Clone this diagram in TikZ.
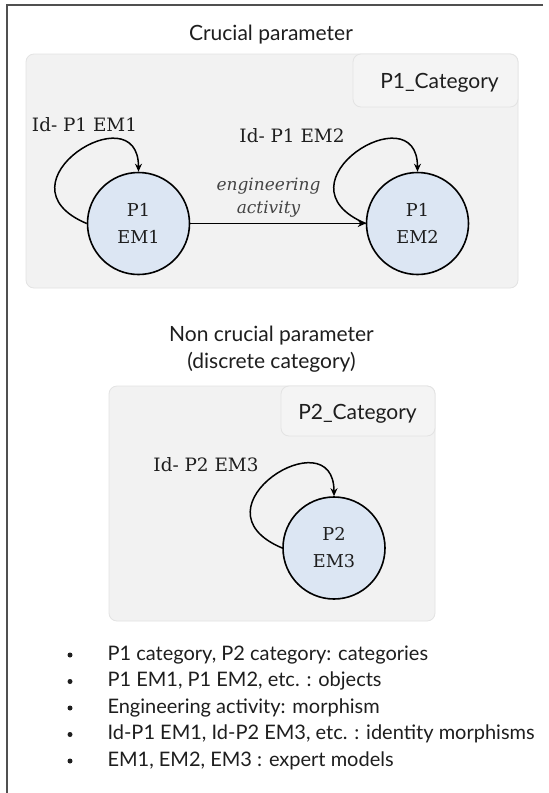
\documentclass[tikz,border=0pt]{standalone}
\usepackage{fontspec}
\setmainfont{Lato}
\newfontfamily\srf{DejaVu Serif}
\usetikzlibrary{arrows.meta}
\definecolor{boxfill}{HTML}{F2F2F2}
\definecolor{tagfill}{HTML}{F4F4F4}
\definecolor{boxline}{HTML}{E3E3E3}
\definecolor{nodefill}{HTML}{DCE6F3}
\definecolor{txt}{HTML}{1E1E1E}
\definecolor{txtb}{HTML}{444444}
\definecolor{frame}{HTML}{505050}
\begin{document}
\begin{tikzpicture}[x=1pt,y=-1pt,
 obj/.style={circle,draw=black,line width=1.6pt,fill=nodefill,minimum size=102pt,inner sep=0pt,align=center,font=\srf\fontsize{17.7}{27}\selectfont,text=txt},
 idlab/.style={anchor=base,font=\srf\fontsize{18.4}{22}\selectfont,text=txt},
 engl/.style={anchor=base,font=\srf\itshape\fontsize{17}{20}\selectfont,text=txtb},
 heading/.style={anchor=base,font=\fontsize{21}{25}\selectfont,text=txt},
 catbox/.style={rounded corners=8pt,fill=boxfill,draw=boxline,line width=0.8pt},
 cattag/.style={rounded corners=8pt,fill=tagfill,draw=boxline,line width=0.8pt},
 tagtext/.style={anchor=base,font=\fontsize{21}{25}\selectfont,text=txt},
 idloop/.style={line width=1.5pt,-{Stealth[length=8pt,width=7pt]}},
 item/.style={anchor=base west,font=\fontsize{20}{24}\selectfont,text=txt},
 dot/.style={circle,fill=txt,inner sep=0pt,minimum size=5pt}]
\useasboundingbox (0,0) rectangle (549,793);
\fill[white] (0,0) rectangle (549,793);
\draw[line width=2pt,frame] (543,5) -- (7,5) -- (7,793);

% headings
\node[heading] (h1) at (271,40) {Crucial parameter};
\node[heading] (h2a) at (271.5,341.5) {Non crucial parameter};
\node[heading] (h2b) at (271.5,368) {(discrete category)};

% category boxes
\draw[catbox] (26,54) rectangle (518,288);
\draw[cattag] (353,54) rectangle (518,107);
\node[tagtext] (t1) at (439.5,88) {P1\_Category};

\draw[catbox] (109,386) rectangle (435,621);
\draw[cattag] (281,386) rectangle (435,436);
\node[tagtext] (t2) at (357.5,419.5) {P2\_Category};

% objects
\node[obj] (e1) at (138.5,223.5) {P1\\EM1};
\node[obj] (e2) at (417.5,223.5) {P1\\EM2};
\node[obj] (e3) at (334,548) {P2\\EM3};

% morphism
\draw[idloop] (e1) -- (e2);
\node[engl] (eng) at (268.5,190) {engineering};
\node[engl] (act) at (268.5,213) {activity};

% identity loops
\draw[idloop] (e1.west) .. controls +(-95,-40) and +(0,-80) .. (e1.north);
\draw[idloop] (e2.west) .. controls +(-95,-40) and +(0,-80) .. (e2.north);
\draw[idloop] (e3.west) .. controls +(-95,-40) and +(0,-80) .. (e3.north);
\node[idlab] (l1) at (84.5,131.5) {Id- P1 EM1};
\node[idlab] (l2) at (292,142) {Id- P1 EM2};
\node[idlab] (l3) at (206,471.5) {Id- P2 EM3};

% legend
\node[dot] (d1) at (70,655) {};
\node[dot] (d2) at (70,681.5) {};
\node[dot] (d3) at (70,708) {};
\node[dot] (d4) at (70,734.5) {};
\node[dot] (d5) at (70,761) {};
\node[item] (i1) at (104,660) {P1 category, P2 category: categories};
\node[item] (i2) at (104,686.5) {P1 EM1, P1 EM2, etc. : objects};
\node[item] (i3) at (104,713) {Engineering activity: morphism};
\node[item] (i4) at (104,739.5) {Id-P1 EM1, Id-P2 EM3, etc. : identity morphisms};
\node[item] (i5) at (104,766) {EM1, EM2, EM3 : expert models};
\end{tikzpicture}
\end{document}
